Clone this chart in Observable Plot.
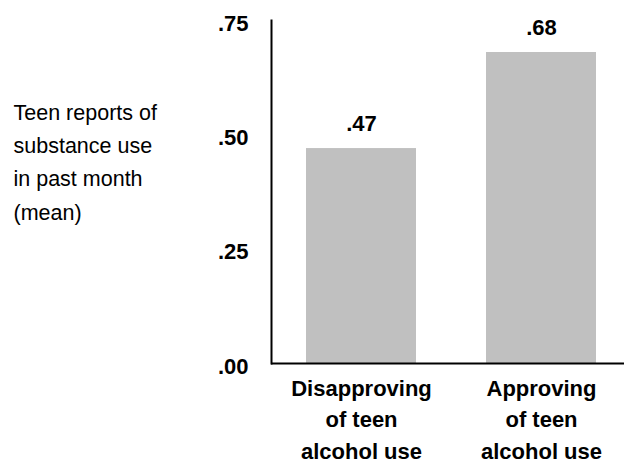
<!DOCTYPE html>
<html>
<head>
<meta charset="utf-8">
<script src="https://cdn.jsdelivr.net/npm/d3@7"></script>
<script src="https://cdn.jsdelivr.net/npm/@observablehq/plot@0.6"></script>
<style>
  html, body { margin: 0; padding: 0; background: #fff; }
  #chart svg { display: block; }
</style>
</head>
<body>
<div id="chart"></div>
<script>
const categories = ["Disapproving\nof teen\nalcohol use", "Approving\nof teen\nalcohol use"];
const values = [0.47, 0.68];
const yTicks = [0, 0.25, 0.5, 0.75];
const yTitle = "Teen reports of\nsubstance use\nin past month\n(mean)";

const data = categories.map((c, i) => ({category: c, value: values[i]}));
const fmt = v => d3.format(".2f")(v).replace(/^0/, "");

const chart = Plot.plot({
  width: 624,
  height: 463,
  marginLeft: 271,
  marginRight: 0,
  marginTop: 20,
  marginBottom: 100,
  style: {fontFamily: "'Liberation Sans', Arial, sans-serif", color: "#000", background: "#fff"},
  x: {domain: categories, range: [271, 631], paddingInner: 0.389, paddingOuter: 0.194},
  y: {domain: [0, 0.75]},
  marks: [
    Plot.barY(data, {x: "category", y: "value", fill: "#c0c0c0"}),
    Plot.text(data, {x: "category", y: "value", text: d => fmt(d.value), dy: -25, lineAnchor: "middle",
      fontSize: 22, fontWeight: "bold", fill: "#000"}),
    Plot.axisY({ticks: yTicks, tickFormat: fmt, tickSize: 0, tickPadding: 23, dy: 3,
      fontSize: 22, fontWeight: "bold", label: null}),
    Plot.axisX({tickSize: 0, tickPadding: 10, fontSize: 22, fontWeight: "bold", lineHeight: 1.43, label: null}),
    Plot.ruleY([0], {stroke: "#000", strokeWidth: 2}),
    Plot.frame({anchor: "left", stroke: "#000", strokeWidth: 2}),
    Plot.text([yTitle], {frameAnchor: "left", textAnchor: "start", lineAnchor: "middle",
      dx: -258, dy: -33, fontSize: 21.5, lineHeight: 1.55, fill: "#000"})
  ]
});
document.getElementById("chart").appendChild(chart);
</script>
</body>
</html>
